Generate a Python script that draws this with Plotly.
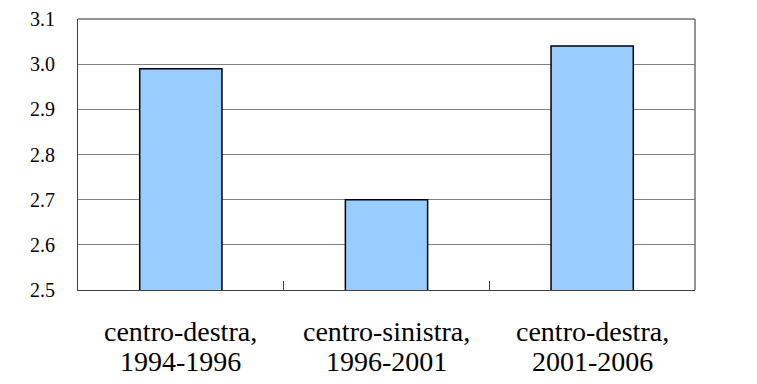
import plotly.graph_objects as go

cat_line1 = ["centro-destra,", "centro-sinistra,", "centro-destra,"]
cat_line2 = ["1994-1996", "1996-2001", "2001-2006"]
categories = [f"{a} {b}" for a, b in zip(cat_line1, cat_line2)]
values = [2.99, 2.70, 3.04]
y_ticks = [2.5, 2.6, 2.7, 2.8, 2.9, 3.0, 3.1]

SERIF = "'Liberation Serif', 'Times New Roman', Times, serif"

fig = go.Figure(go.Bar(
    x=categories, y=values,
    marker=dict(color="#99CCFF", line=dict(color="#000000", width=1.5)),
    width=0.4,
))

fig.update_layout(
    width=757, height=384,
    margin=dict(l=78, r=62, t=19, b=94, autoexpand=False),
    paper_bgcolor="white", plot_bgcolor="white",
    font=dict(family=SERIF, color="#000000"),
    showlegend=False,
)
fig.update_yaxes(
    range=[2.5, 3.1], tickvals=y_ticks, ticktext=[f"{v:.1f}" for v in y_ticks],
    showgrid=True, gridcolor="#808080", gridwidth=1,
    showline=True, linecolor="#404040", linewidth=1, mirror=False,
    ticks="", tickfont=dict(size=20, family=SERIF, color="#000000"), ticklabelstandoff=18,
    zeroline=False, automargin=False,
)
fig.update_xaxes(
    showline=True, linecolor="#404040", linewidth=1,
    ticks="inside", tickson="boundaries", ticklen=9, tickcolor="#404040",
    showticklabels=False, automargin=False,
)
# two-line category labels with tight line spacing
for cat, l1, l2 in zip(categories, cat_line1, cat_line2):
    for txt, shift in ((l1, -41), (l2, -71)):
        fig.add_annotation(x=cat, xref="x", y=0, yref="paper", text=txt,
                           showarrow=False, yanchor="middle", xanchor="center",
                           yshift=shift, font=dict(size=28, family=SERIF, color="#000000"))
# top and right border
fig.add_shape(type="line", xref="paper", yref="paper", x0=1, x1=1, y0=0, y1=1,
              line=dict(color="#707070", width=1.5))
fig.add_shape(type="line", xref="paper", yref="paper", x0=0, x1=1, y0=1, y1=1,
              line=dict(color="#707070", width=1.5))

fig.write_html("out.html", config={"displayModeBar": False},
               post_script="document.body.style.margin='0';document.body.style.padding='0';")
